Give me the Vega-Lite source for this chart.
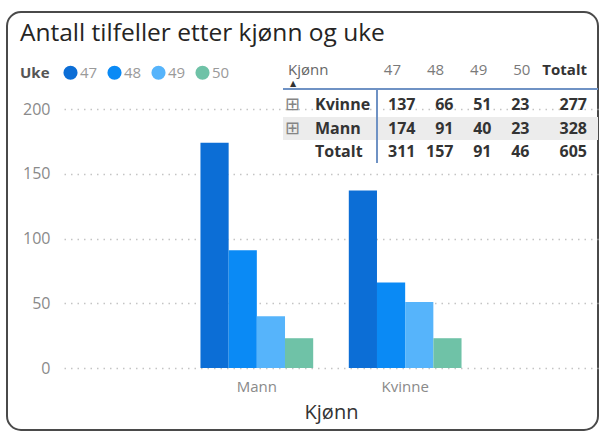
{
  "$schema": "https://vega.github.io/schema/vega-lite/v6.json",
  "width": 591,
  "height": 418,
  "autosize": {"type": "none"},
  "padding": {"left": 7, "top": 12, "right": 3, "bottom": 3},
  "background": "white",
  "title": {
    "text": "Antall tilfeller etter kjønn og uke",
    "anchor": "start",
    "frame": "group",
    "dx": 13,
    "offset": -34,
    "fontSize": 24.5,
    "fontWeight": "normal",
    "color": "#252423"
  },
  "config": {
    "font": "Open Sans",
    "view": {"stroke": "#4a4a4a", "strokeWidth": 2, "cornerRadius": 14, "fill": "white"}
  },
  "resolve": {"scale": {"x": "independent", "y": "independent"}},
  "layer": [
    {
      "data": {"values": [
        {"Kjønn": "Mann", "Uke": "47", "Antall": 174},
        {"Kjønn": "Mann", "Uke": "48", "Antall": 91},
        {"Kjønn": "Mann", "Uke": "49", "Antall": 40},
        {"Kjønn": "Mann", "Uke": "50", "Antall": 23},
        {"Kjønn": "Kvinne", "Uke": "47", "Antall": 137},
        {"Kjønn": "Kvinne", "Uke": "48", "Antall": 66},
        {"Kjønn": "Kvinne", "Uke": "49", "Antall": 51},
        {"Kjønn": "Kvinne", "Uke": "50", "Antall": 23}
      ]},
      "mark": {"type": "bar"},
      "encoding": {
        "x": {
          "field": "Kjønn",
          "type": "nominal",
          "sort": ["Mann", "Kvinne"],
          "scale": {"range": [57, 591], "paddingInner": 0.24, "paddingOuter": 0.92},
          "axis": {
            "title": "Kjønn",
            "orient": "bottom",
            "offset": -62,
            "labelAngle": 0,
            "domain": false,
            "ticks": false,
            "labelPadding": 11,
            "labelFontSize": 15,
            "labelColor": "#8a8a8a",
            "titleFontSize": 20,
            "titleColor": "#333333",
            "titleFontWeight": "normal",
            "titlePadding": 8
          }
        },
        "xOffset": {"field": "Uke", "type": "nominal", "scale": {"paddingInner": 0, "paddingOuter": 0}},
        "y": {
          "field": "Antall",
          "type": "quantitative",
          "scale": {"domain": [0, 200], "range": [356, 97], "nice": false},
          "axis": {
            "title": null,
            "values": [0, 50, 100, 150, 200],
            "offset": -57,
            "domain": false,
            "ticks": false,
            "labelPadding": 14,
            "labelFontSize": 16,
            "labelColor": "#8a8a8a",
            "gridColor": "#c4c4c4",
            "gridDash": [1.5, 5],
            "gridWidth": 1.5
          }
        },
        "color": {
          "field": "Uke",
          "type": "nominal",
          "scale": {"domain": ["47", "48", "49", "50"], "range": ["#0c6ed6", "#0a8af5", "#56b4fb", "#6fc2a7"]},
          "legend": {
            "title": "Uke",
            "orient": "none",
            "legendX": 13,
            "legendY": 53,
            "direction": "horizontal",
            "titleOrient": "left",
            "titleFontSize": 15,
            "titleFontWeight": "bold",
            "titleColor": "#555555",
            "titlePadding": 13,
            "labelFontSize": 15,
            "labelColor": "#9a9a9a",
            "symbolType": "circle",
            "symbolSize": 200,
            "symbolStrokeWidth": 0,
            "labelOffset": 2,
            "columnPadding": 9,
            "padding": 0
          }
        }
      }
    },
    {
      "data": {"values": [{"rad": "Mann", "fra": "Kjønn", "til": "Totalt"}]},
      "mark": {"type": "rule", "color": "#ececec", "strokeWidth": 23},
      "encoding": {
        "x": {"field": "fra", "type": "nominal", "scale": {"type": "point", "domain": ["Kjønn", "Totalt"], "range": [276, 591], "padding": 0}, "axis": null},
        "x2": {"field": "til"},
        "y": {"field": "rad", "type": "nominal", "scale": {"type": "point", "domain": ["Kvinne", "Mann", "Totalt"], "range": [93, 140], "padding": 0}, "axis": null}
      }
    },
    {
      "data": {"values": [{"rad": "Kvinne", "fra": "Kjønn", "til": "Totalt"}]},
      "mark": {"type": "rule", "color": "#6f92c4", "strokeWidth": 2, "yOffset": -16},
      "encoding": {
        "x": {"field": "fra", "type": "nominal", "scale": {"type": "point", "domain": ["Kjønn", "Totalt"], "range": [276, 591], "padding": 0}, "axis": null},
        "x2": {"field": "til"},
        "y": {"field": "rad", "type": "nominal", "scale": {"type": "point", "domain": ["Kvinne", "Mann", "Totalt"], "range": [93, 140], "padding": 0}, "axis": null}
      }
    },
    {
      "data": {"values": [{"kol": "47", "fra": "Kvinne", "til": "Totalt"}]},
      "mark": {"type": "rule", "color": "#6f92c4", "strokeWidth": 2, "xOffset": -38.5, "yOffset": -16, "y2Offset": 11},
      "encoding": {
        "x": {"field": "kol", "type": "nominal", "scale": {"type": "point", "domain": ["47", "48", "49", "50"], "range": [408.5, 522.5], "padding": 0}, "axis": null},
        "y": {"field": "fra", "type": "nominal", "scale": {"type": "point", "domain": ["Kvinne", "Mann", "Totalt"], "range": [93, 140], "padding": 0}, "axis": null},
        "y2": {"field": "til"}
      }
    },
    {
      "data": {"values": [{"rad": "Kvinne", "kol": "Kjønn"}, {"rad": "Mann", "kol": "Kjønn"}]},
      "mark": {"type": "text", "text": "⊞", "font": "DejaVu Sans", "fontSize": 18, "color": "#858585", "align": "center", "baseline": "middle", "dx": 9.5},
      "encoding": {
        "x": {"field": "kol", "type": "nominal", "scale": {"type": "point", "domain": ["Kjønn", "Totalt"], "range": [276, 591], "padding": 0}, "axis": null},
        "y": {"field": "rad", "type": "nominal", "scale": {"type": "point", "domain": ["Kvinne", "Mann", "Totalt"], "range": [93, 140], "padding": 0}, "axis": null}
      }
    },
    {
      "data": {"values": [{"rad": "Kvinne", "kol": "Kjønn"}, {"rad": "Mann", "kol": "Kjønn"}, {"rad": "Totalt", "kol": "Kjønn"}]},
      "mark": {"type": "text", "fontSize": 16, "fontWeight": "bold", "color": "#333333", "align": "left", "baseline": "middle", "dx": 32},
      "encoding": {
        "x": {"field": "kol", "type": "nominal", "scale": {"type": "point", "domain": ["Kjønn", "Totalt"], "range": [276, 591], "padding": 0}, "axis": null},
        "y": {"field": "rad", "type": "nominal", "scale": {"type": "point", "domain": ["Kvinne", "Mann", "Totalt"], "range": [93, 140], "padding": 0}, "axis": null},
        "text": {"field": "rad"}
      }
    },
    {
      "data": {"values": [
        {"rad": "Kvinne", "kol": "47", "verdi": 137},
        {"rad": "Kvinne", "kol": "48", "verdi": 66},
        {"rad": "Kvinne", "kol": "49", "verdi": 51},
        {"rad": "Kvinne", "kol": "50", "verdi": 23},
        {"rad": "Mann", "kol": "47", "verdi": 174},
        {"rad": "Mann", "kol": "48", "verdi": 91},
        {"rad": "Mann", "kol": "49", "verdi": 40},
        {"rad": "Mann", "kol": "50", "verdi": 23},
        {"rad": "Totalt", "kol": "47", "verdi": 311},
        {"rad": "Totalt", "kol": "48", "verdi": 157},
        {"rad": "Totalt", "kol": "49", "verdi": 91},
        {"rad": "Totalt", "kol": "50", "verdi": 46}
      ]},
      "mark": {"type": "text", "fontSize": 16, "fontWeight": "bold", "color": "#333333", "align": "right", "baseline": "middle"},
      "encoding": {
        "x": {"field": "kol", "type": "nominal", "scale": {"type": "point", "domain": ["47", "48", "49", "50"], "range": [408.5, 522.5], "padding": 0}, "axis": null},
        "y": {"field": "rad", "type": "nominal", "scale": {"type": "point", "domain": ["Kvinne", "Mann", "Totalt"], "range": [93, 140], "padding": 0}, "axis": null},
        "text": {"field": "verdi", "type": "quantitative"}
      }
    },
    {
      "data": {"values": [
        {"rad": "Kvinne", "kol": "Totalt", "verdi": 277},
        {"rad": "Mann", "kol": "Totalt", "verdi": 328},
        {"rad": "Totalt", "kol": "Totalt", "verdi": 605}
      ]},
      "mark": {"type": "text", "fontSize": 16, "fontWeight": "bold", "color": "#333333", "align": "right", "baseline": "middle", "dx": -11},
      "encoding": {
        "x": {"field": "kol", "type": "nominal", "scale": {"type": "point", "domain": ["Kjønn", "Totalt"], "range": [276, 591], "padding": 0}, "axis": null},
        "y": {"field": "rad", "type": "nominal", "scale": {"type": "point", "domain": ["Kvinne", "Mann", "Totalt"], "range": [93, 140], "padding": 0}, "axis": null},
        "text": {"field": "verdi", "type": "quantitative"}
      }
    },
    {
      "data": {"values": [
        {"rad": "hode", "kol": "47"},
        {"rad": "hode", "kol": "48"},
        {"rad": "hode", "kol": "49"},
        {"rad": "hode", "kol": "50"}
      ]},
      "mark": {"type": "text", "fontSize": 15, "color": "#7a7a7a", "align": "right", "baseline": "middle"},
      "encoding": {
        "x": {"field": "kol", "type": "nominal", "scale": {"type": "point", "domain": ["47", "48", "49", "50"], "range": [394, 523.4], "padding": 0}, "axis": null},
        "y": {"field": "rad", "type": "nominal", "scale": {"type": "point", "domain": ["hode"], "range": [58, 58], "padding": 0}, "axis": null},
        "text": {"field": "kol"}
      }
    },
    {
      "data": {"values": [{"rad": "hode", "kol": "Kjønn"}]},
      "mark": {"type": "text", "fontSize": 15, "color": "#666666", "align": "left", "baseline": "middle", "dx": 5},
      "encoding": {
        "x": {"field": "kol", "type": "nominal", "scale": {"type": "point", "domain": ["Kjønn", "Totalt"], "range": [276, 591], "padding": 0}, "axis": null},
        "y": {"field": "rad", "type": "nominal", "scale": {"type": "point", "domain": ["hode"], "range": [58, 58], "padding": 0}, "axis": null},
        "text": {"field": "kol"}
      }
    },
    {
      "data": {"values": [{"rad": "hode", "kol": "Kjønn"}]},
      "mark": {"type": "text", "text": "▲", "font": "DejaVu Sans", "fontSize": 8, "color": "#333333", "align": "center", "baseline": "middle", "dx": 10, "dy": 14},
      "encoding": {
        "x": {"field": "kol", "type": "nominal", "scale": {"type": "point", "domain": ["Kjønn", "Totalt"], "range": [276, 591], "padding": 0}, "axis": null},
        "y": {"field": "rad", "type": "nominal", "scale": {"type": "point", "domain": ["hode"], "range": [58, 58], "padding": 0}, "axis": null}
      }
    },
    {
      "data": {"values": [{"rad": "hode", "kol": "Totalt"}]},
      "mark": {"type": "text", "fontSize": 15, "fontWeight": "bold", "color": "#333333", "align": "right", "baseline": "middle", "dx": -11},
      "encoding": {
        "x": {"field": "kol", "type": "nominal", "scale": {"type": "point", "domain": ["Kjønn", "Totalt"], "range": [276, 591], "padding": 0}, "axis": null},
        "y": {"field": "rad", "type": "nominal", "scale": {"type": "point", "domain": ["hode"], "range": [58, 58], "padding": 0}, "axis": null},
        "text": {"field": "kol"}
      }
    }
  ]
}
